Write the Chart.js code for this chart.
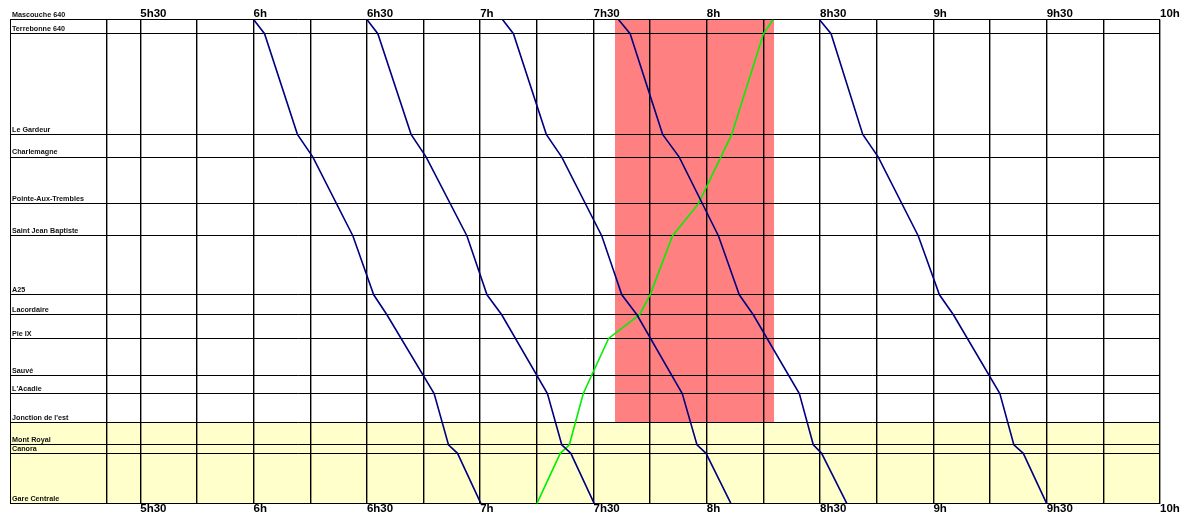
<!DOCTYPE html>
<html lang="fr">
<head>
  <meta charset="UTF-8" />
  <title>Horaire train de l'Est</title>
  <script src="https://cdn.jsdelivr.net/npm/chart.js"></script>
  <style>
    html, body { margin: 0; padding: 0; background: #fff; }
    #wrap { width: 1185px; height: 514px; }
  </style>
</head>
<body>
  <div id="wrap"><canvas id="horaire"></canvas></div>

  <script>
    // Gares (du bas vers le haut) et distance depuis Gare Centrale (km, estimé)
    const stationNames = ["Gare Centrale", "Canora", "Mont Royal", "Jonction de l'est", "L'Acadie", "Sauvé",
      "Pie IX", "Lacordaire", "A25", "Saint Jean Baptiste", "Pointe-Aux-Trembles", "Charlemagne",
      "Le Gardeur", "Terrebonne 640", "Mascouche 640"];
    const stationKm = [0, 5.3, 6.2, 8.5, 11.6, 13.5, 17.4, 19.9, 22.0, 28.2, 31.6, 36.5, 38.9, 49.5, 51.0];

    // Heures en minutes depuis minuit
    const gridTimes = [321, 330, 345, 360, 375, 390, 405, 420, 435, 450, 465, 480, 495, 510, 525, 540, 555, 570, 585, 600];
    const labelTimes = [330, 360, 390, 420, 450, 480, 510, 540, 570, 600];
    const timeLabels = ["5h30", "6h", "6h30", "7h", "7h30", "8h", "8h30", "9h", "9h30", "10h"];
    const timeMin = 295.5, timeMax = 600;

    // Trains vers le centre-ville
    const southStops = ["Mascouche 640", "Terrebonne 640", "Le Gardeur", "Charlemagne", "Saint Jean Baptiste",
      "A25", "Lacordaire", "L'Acadie", "Mont Royal", "Canora", "Gare Centrale"];
    const train1 = [360.0, 362.9, 371.6, 375.7, 386.3, 391.8, 395.3, 407.8, 411.6, 414.0, 420.2];
    const train2 = [390.0, 392.9, 401.7, 405.7, 416.5, 421.8, 425.7, 437.8, 441.6, 444.0, 450.2];
    const train3 = [425.9, 428.8, 437.5, 441.6, 452.2, 457.5, 461.5, 473.5, 477.4, 479.8, 486.4];
    const train4 = [456.6, 459.7, 468.3, 472.7, 483.1, 488.6, 492.3, 504.5, 508.2, 510.4, 517.1];
    const train5 = [509.8, 512.9, 521.3, 525.4, 536.0, 541.6, 545.3, 557.6, 561.3, 563.8, 570.0];

    // Train vers Mascouche
    const northStops = ["Gare Centrale", "Canora", "Mont Royal", "L'Acadie", "Pie IX", "Lacordaire", "A25",
      "Saint Jean Baptiste", "Pointe-Aux-Trembles", "Le Gardeur", "Terrebonne 640", "Mascouche 640"];
    const trainNorth = [435.0, 441.2, 443.6, 447.3, 454.0, 462.2, 465.0, 470.9, 477.8, 486.6, 495.0, 497.6];

    // Zones
    const peakWindow = [455.7, 497.8];
    const peakStations = ["Jonction de l'est", "Mascouche 640"];
    const downtownStations = ["Gare Centrale", "Jonction de l'est"];

    const km = name => stationKm[stationNames.indexOf(name)];
    const toPoints = (stops, times) => stops.map((s, i) => ({ x: times[i], y: km(s) }));

    const bandsPlugin = {
      id: "bands",
      beforeDraw(chart) {
        const { ctx, chartArea, scales } = chart;
        const x = scales.x, y = scales.y;
        ctx.save();
        // centre-ville
        const yTop = y.getPixelForValue(km(downtownStations[1]));
        const yBot = y.getPixelForValue(km(downtownStations[0]));
        ctx.fillStyle = "#FFFFCC";
        ctx.fillRect(chartArea.left, yTop, chartArea.right - chartArea.left, yBot - yTop);
        // heure de pointe
        const x0 = x.getPixelForValue(peakWindow[0]);
        const x1 = x.getPixelForValue(peakWindow[1]);
        const pTop = y.getPixelForValue(km(peakStations[1]));
        const pBot = y.getPixelForValue(km(peakStations[0]));
        ctx.fillStyle = "#FF8080";
        ctx.fillRect(x0, pTop, x1 - x0, pBot - pTop);
        ctx.restore();
      }
    };

    const timeLabel = value => {
      const i = labelTimes.indexOf(value);
      return i >= 0 ? timeLabels[i] : "";
    };

    const line = (times, stops, color) => ({
      data: toPoints(stops, times),
      borderColor: color,
      borderWidth: 1.6,
      showLine: true,
      pointRadius: 0,
      tension: 0
    });

    const tickFont = { family: "'Liberation Sans', Arial, sans-serif", size: 11.5, weight: "bold", lineHeight: 1 };

    new Chart(document.getElementById("horaire"), {
      type: "scatter",
      data: {
        datasets: [
          line(train1, southStops, "#000080"),
          line(train2, southStops, "#000080"),
          line(train3, southStops, "#000080"),
          line(train4, southStops, "#000080"),
          line(train5, southStops, "#000080"),
          line(trainNorth, northStops, "#00F000")
        ]
      },
      options: {
        responsive: true,
        maintainAspectRatio: false,
        animation: false,
        layout: { padding: { left: 6, right: 25, top: 8, bottom: 0 } },
        plugins: { legend: { display: false }, tooltip: { enabled: false } },
        scales: {
          x: {
            type: "linear",
            position: "bottom",
            min: timeMin,
            max: timeMax,
            afterBuildTicks: s => { s.ticks = gridTimes.map(v => ({ value: v })); },
            grid: { color: "#000", lineWidth: 1.4, drawTicks: false },
            border: { display: true, color: "#000", width: 1 },
            ticks: {
              autoSkip: false, maxRotation: 0, minRotation: 0, align: "start", padding: 0,
              color: "#000", font: Object.assign({}, tickFont, { lineHeight: 0.9 }),
              callback: timeLabel
            }
          },
          x2: {
            type: "linear",
            position: "top",
            min: timeMin,
            max: timeMax,
            afterBuildTicks: s => { s.ticks = gridTimes.map(v => ({ value: v })); },
            grid: { display: false, drawTicks: false },
            border: { display: false },
            ticks: {
              autoSkip: false, maxRotation: 0, minRotation: 0, align: "start", padding: 0,
              color: "#000", font: tickFont,
              callback: timeLabel
            }
          },
          y: {
            type: "linear",
            min: 0,
            max: 51,
            afterBuildTicks: s => { s.ticks = stationKm.map(v => ({ value: v })); },
            grid: { color: "#000", lineWidth: 1, drawTicks: false },
            border: { display: true, color: "#000", width: 1 },
            ticks: {
              mirror: true, padding: 2, labelOffset: -4.8, autoSkip: false,
              color: "#111",
              font: { family: "'Liberation Sans', Arial, sans-serif", size: 7.2, weight: "bold" },
              callback: (v, i) => stationNames[i]
            }
          }
        }
      },
      plugins: [bandsPlugin]
    });
  </script>
</body>
</html>
